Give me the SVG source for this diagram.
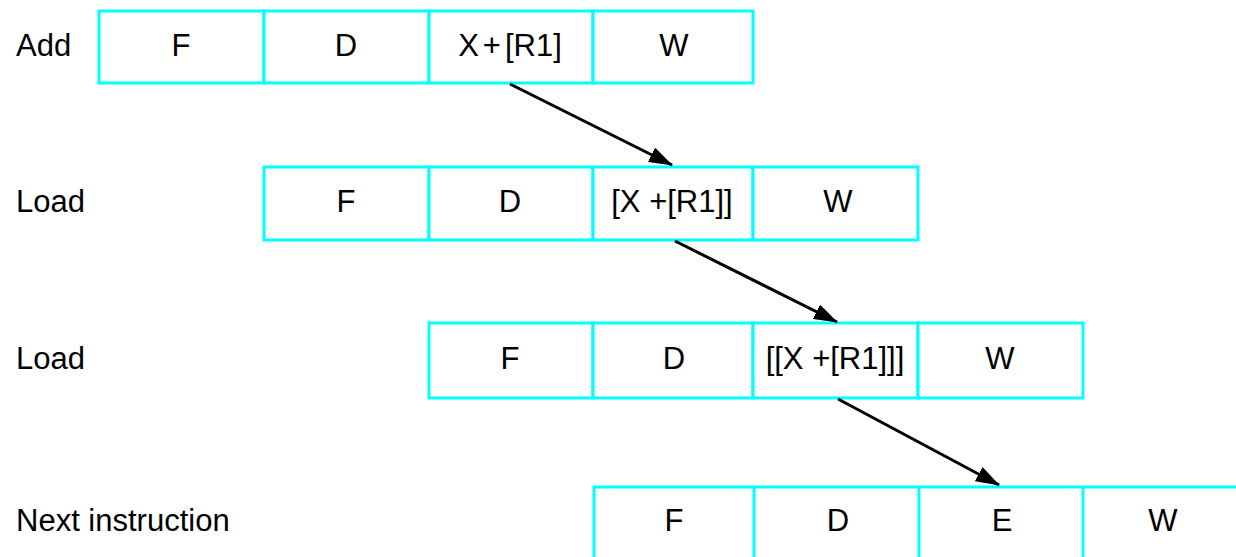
<svg xmlns="http://www.w3.org/2000/svg" width="1236" height="557" viewBox="0 0 1236 557">
<style>
.c{fill:#fff;stroke:#00ffff;stroke-width:3}
.t{font-family:"Liberation Sans",Arial,sans-serif;font-size:31px;fill:#000}
.m{text-anchor:middle}
.a{stroke:#000;stroke-width:3;fill:none;marker-end:url(#ah)}
</style>
<defs>
<marker id="ah" markerWidth="24" markerHeight="16" refX="23" refY="8" orient="auto" markerUnits="userSpaceOnUse" viewBox="0 0 24 16">
<path d="M0,0 L24,8 L0,16 z" fill="#000"/>
</marker>
</defs>
<rect width="1236" height="557" fill="#fff"/>
<g id="row1">
<text class="t" x="16" y="56">Add</text>
<rect class="c" x="99" y="11" width="165" height="72"/>
<rect class="c" x="264" y="11" width="165" height="72"/>
<rect class="c" x="429" y="11" width="164" height="72"/>
<rect class="c" x="593" y="11" width="160" height="72"/>
<text class="t m" x="181" y="56">F</text>
<text class="t m" x="346" y="56">D</text>
<text class="t m" x="510" y="56">X<tspan dx="4">+</tspan><tspan dx="4">[R1]</tspan></text>
<text class="t m" x="674" y="56">W</text>
</g>
<g id="row2">
<text class="t" x="16" y="212">Load</text>
<rect class="c" x="264" y="167" width="165" height="73"/>
<rect class="c" x="429" y="167" width="164" height="73"/>
<rect class="c" x="593" y="167" width="160" height="73"/>
<rect class="c" x="753" y="167" width="165" height="73"/>
<text class="t m" x="346" y="212">F</text>
<text class="t m" x="510" y="212">D</text>
<text class="t m" x="672" y="212">[X +[R1]]</text>
<text class="t m" x="838" y="212">W</text>
</g>
<g id="row3">
<text class="t" x="16" y="369">Load</text>
<rect class="c" x="429" y="323" width="164" height="75"/>
<rect class="c" x="593" y="323" width="160" height="75"/>
<rect class="c" x="753" y="323" width="165" height="75"/>
<rect class="c" x="918" y="323" width="165" height="75"/>
<text class="t m" x="510" y="369">F</text>
<text class="t m" x="674" y="369">D</text>
<text class="t m" x="835" y="369">[[X +[R1]]]</text>
<text class="t m" x="1000" y="369">W</text>
</g>
<g id="row4">
<text class="t" x="16" y="531">Next instruction</text>
<path class="c" d="M594,560 V487 H1240 M754,487 V560 M919,487 V560 M1083,487 V560" fill="none"/>
<text class="t m" x="674" y="531">F</text>
<text class="t m" x="838" y="531">D</text>
<text class="t m" x="1002" y="531">E</text>
<text class="t m" x="1163" y="531">W</text>
</g>
<g id="connectors">
<line class="a" x1="510" y1="84" x2="672" y2="165"/>
<line class="a" x1="675" y1="241" x2="837" y2="322"/>
<line class="a" x1="838" y1="399" x2="999" y2="485"/>
</g>
</svg>
